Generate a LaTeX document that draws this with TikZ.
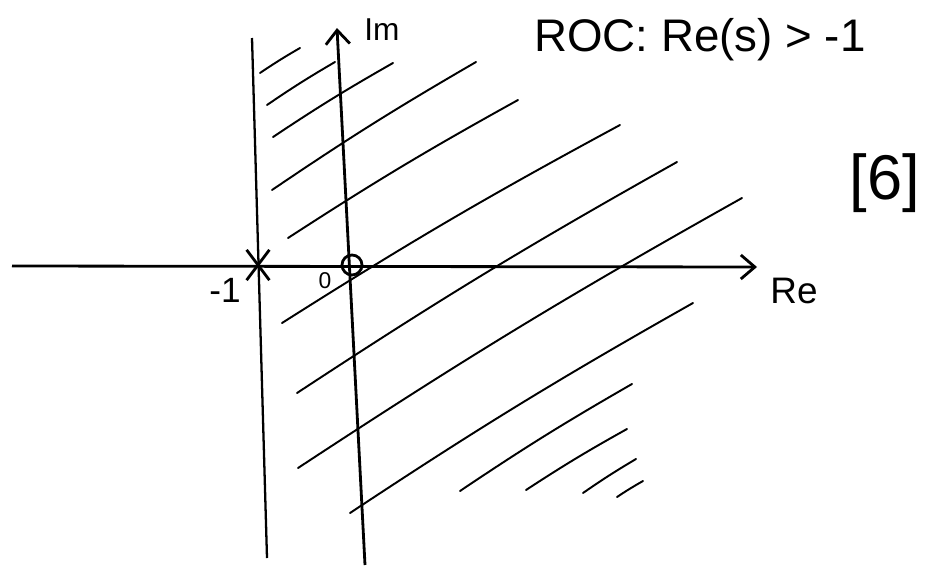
\documentclass[tikz,border=0pt]{standalone}
\usepackage{fontspec}
\setmainfont{Liberation Sans}
\usetikzlibrary{arrows.meta, shapes.misc, positioning}
\definecolor{ctinta}{HTML}{000000}
\tikzset{
  eje/.style={line width=1.6pt, draw=ctinta},
  flecha/.style={-{Straight Barb[length=2.8mm, width=4.8mm, line width=1.6pt]}},
  rayado/.style={line width=1.1pt, draw=ctinta, line cap=round},
  etiqueta/.style={text=ctinta, inner sep=0pt},
}

\begin{document}
\begin{tikzpicture}[x=0.02cm, y=-0.02cm]
        \useasboundingbox (0,0) rectangle (926,565);
        % ejes
        \coordinate (reini) at (12,266);
        \coordinate (refin) at (757,267);
        \coordinate (imini) at (365,565);
        \coordinate (imfin) at (337,28);
        \coordinate (limsup) at (252,38);
        \coordinate (liminf) at (267,558);
        \draw[eje, flecha] (reini) -- (refin);
        \draw[eje, flecha] (imini) -- (imfin);
        \draw[eje, line width=1.3pt] (limsup) -- (liminf);
        % rayado de la ROC
        \foreach \xa/\ya/\xb/\yb in {260/73/300/48, 267/105/335/62, 273/137/393/63,
            272/190/476/62, 288/238/518/100, 282/323/620/125, 297/393/677/162,
            298/468/742/198, 350/513/693/303, 460/491/632/384, 526/490/627/429,
            583/493/636/459, 617/497/643/481}
          \draw[rayado] (\xa,\ya) to[bend left=2] (\xb,\yb);
        % polo y cero
        \node[cross out, draw=ctinta, line width=1.6pt, minimum width=0.4cm, minimum height=0.55cm] (polo) at (258,265) {};
        \node[circle, draw=ctinta, line width=1.6pt, minimum size=0.4cm, inner sep=0pt] (cero) at (352,265) {};
        % etiquetas
        \node[etiqueta, font=\fontsize{20}{24}\selectfont] (menosuno) at (225,290) {-1};
        \node[etiqueta, font=\fontsize{13}{15}\selectfont] (origen) at (325,281) {0};
        \node[etiqueta, font=\fontsize{18}{21}\selectfont] (im) at (382,30) {Im};
        \node[etiqueta, font=\fontsize{21}{25}\selectfont] (re) at (794,291) {Re};
        \node[etiqueta, font=\fontsize{26}{30}\selectfont] (roc) at (700,40) {ROC: Re(s) > -1};
        \node[etiqueta, font=\fontsize{36}{40}\selectfont] (nota) at (885,183) {[6]};
    \end{tikzpicture}
\end{document}
